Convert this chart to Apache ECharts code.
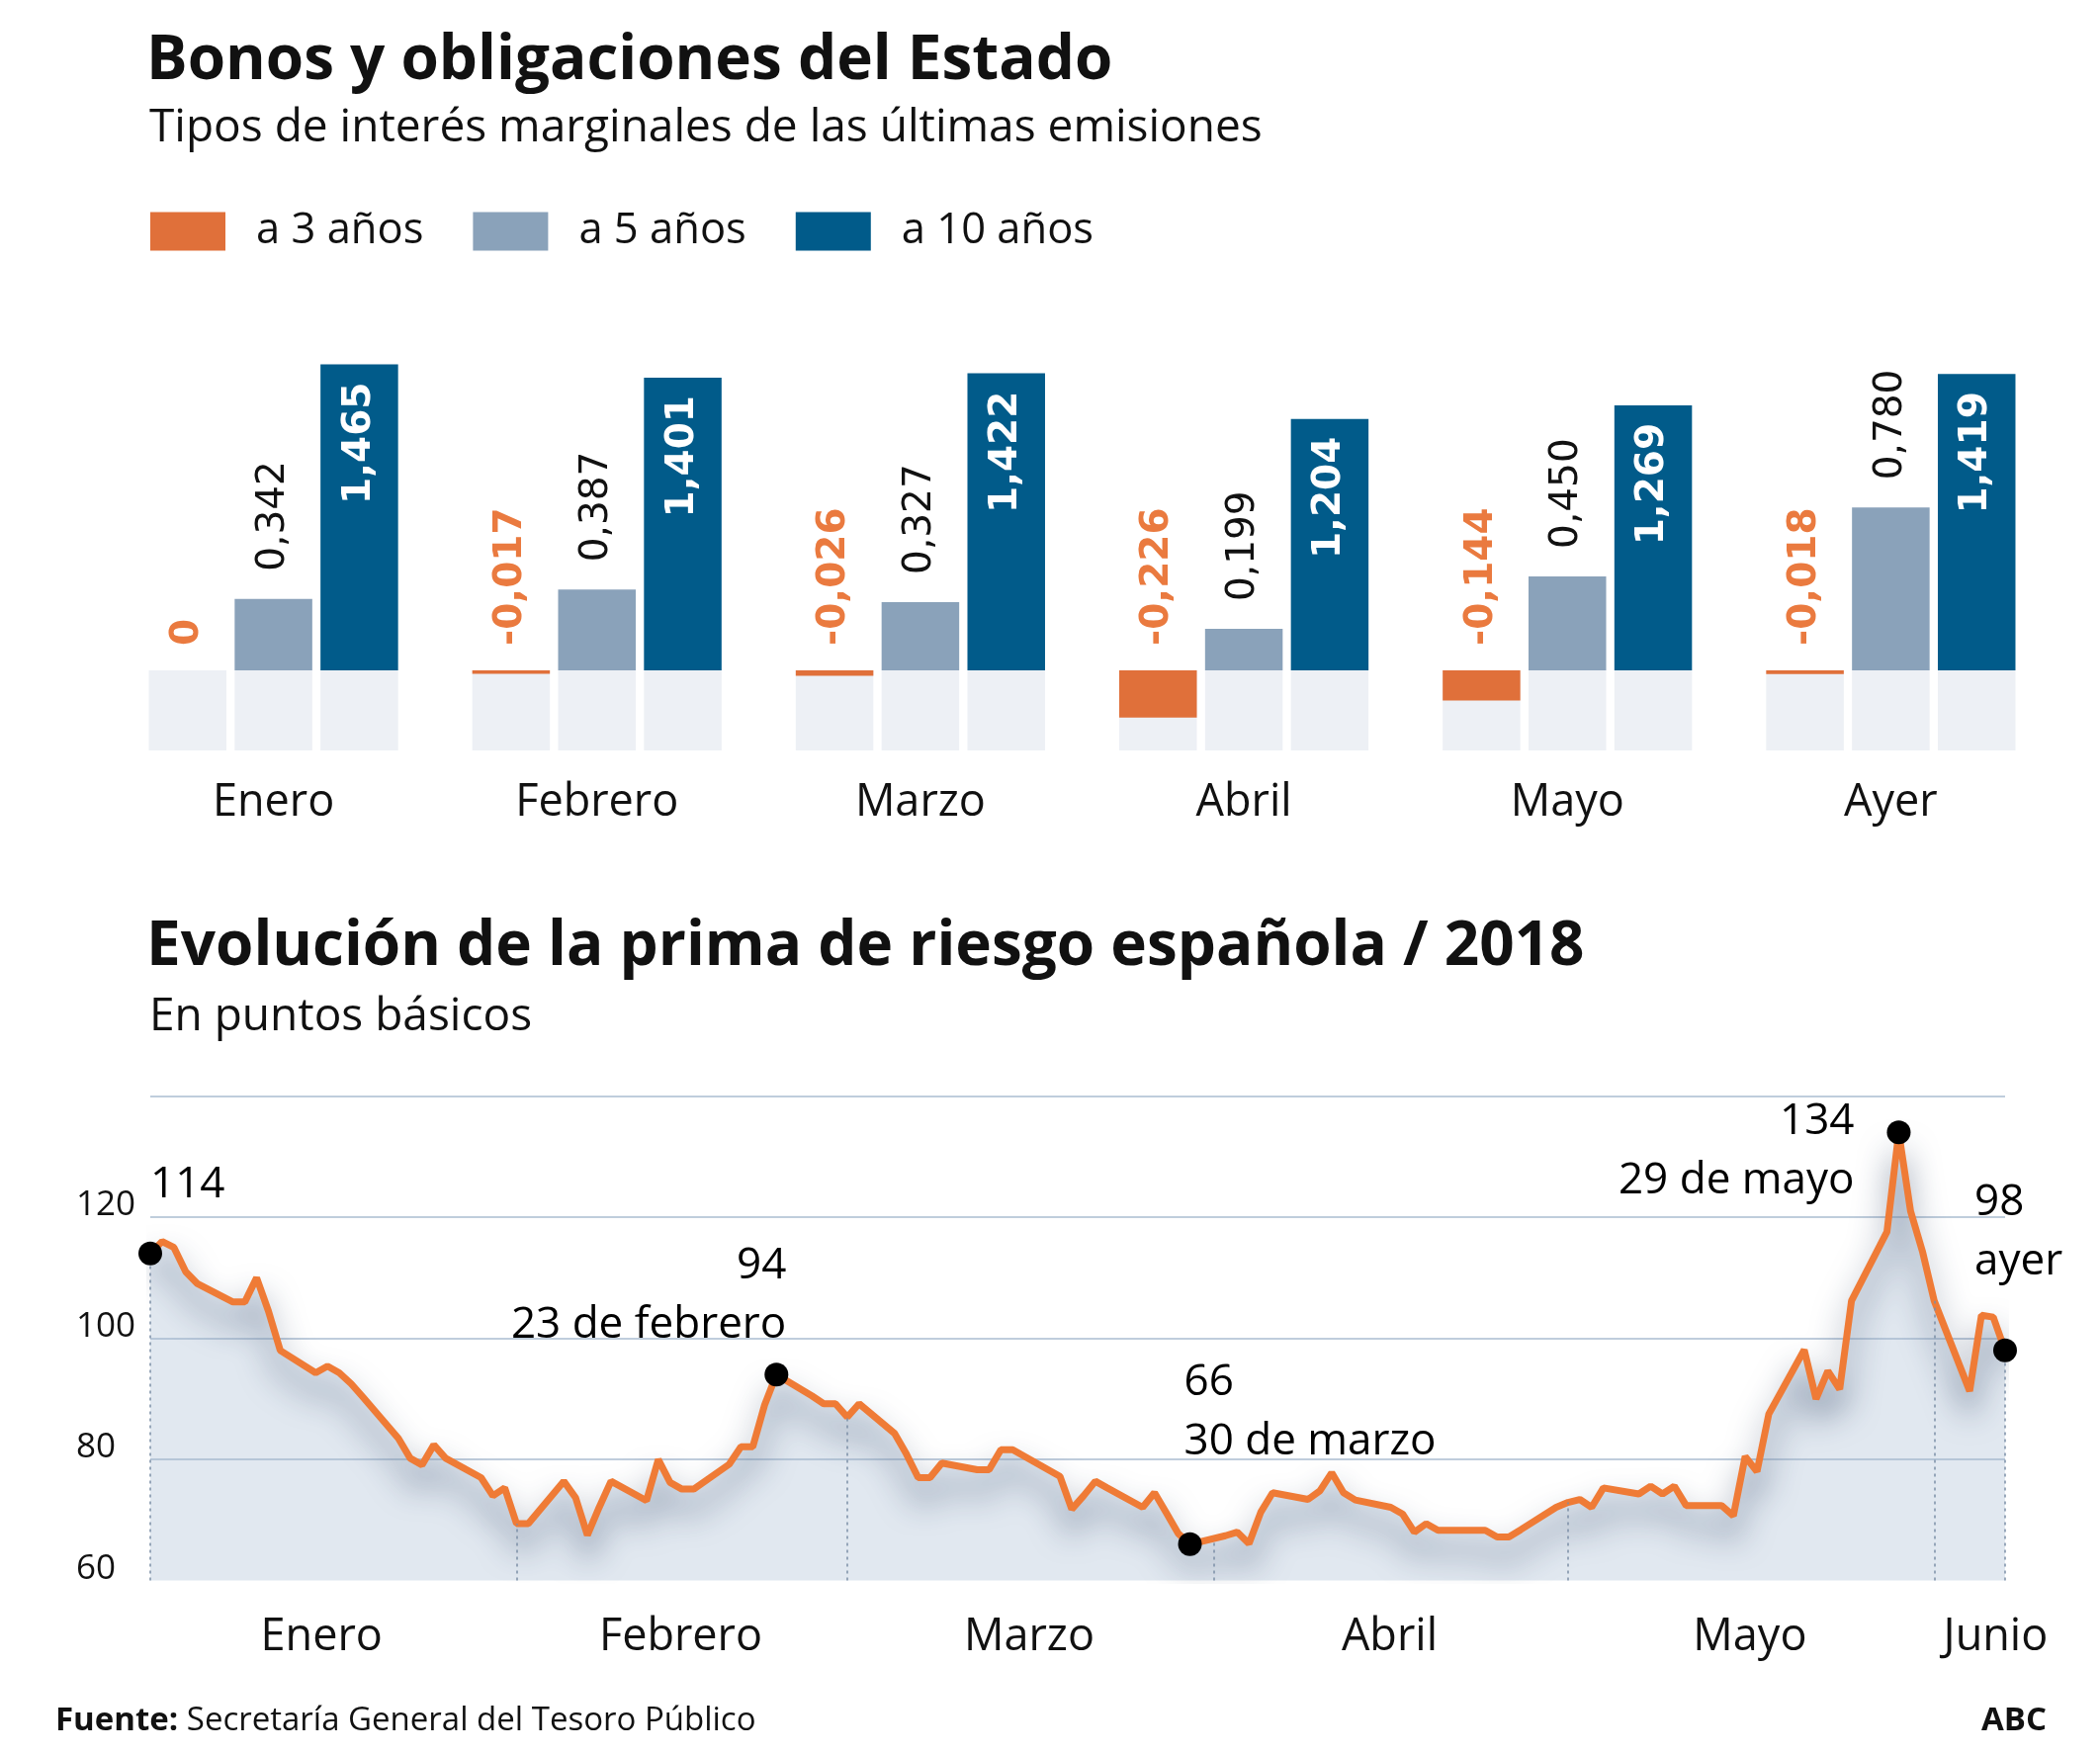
<!DOCTYPE html>
<html><head><meta charset="utf-8">
<script src="https://cdn.jsdelivr.net/npm/echarts@6/dist/echarts.min.js"></script>
<style>html,body{margin:0;padding:0;background:#fff}#c{width:2124px;height:1774px}</style>
</head><body><div id="c"></div>
<script>
// ---------- Datos: bonos y obligaciones ----------
const meses = ['Enero', 'Febrero', 'Marzo', 'Abril', 'Mayo', 'Ayer'];
const a3 = [0, -0.017, -0.026, -0.226, -0.144, -0.018];
const a5 = [0.342, 0.387, 0.327, 0.199, 0.450, 0.780];
const a10 = [1.465, 1.401, 1.422, 1.204, 1.269, 1.419];
const fondoMin = -0.383;

// ---------- Datos: prima de riesgo 2018 ----------
const fechas = [
 '2018-01-01','2018-01-02','2018-01-03','2018-01-04','2018-01-05','2018-01-08','2018-01-09','2018-01-10','2018-01-11','2018-01-12','2018-01-15','2018-01-16','2018-01-17','2018-01-18','2018-01-19','2018-01-22','2018-01-23','2018-01-24','2018-01-25','2018-01-26','2018-01-29','2018-01-30','2018-01-31',
 '2018-02-01','2018-02-02','2018-02-05','2018-02-06','2018-02-07','2018-02-08','2018-02-09','2018-02-12','2018-02-13','2018-02-14','2018-02-15','2018-02-16','2018-02-19','2018-02-20','2018-02-21','2018-02-22','2018-02-23','2018-02-26','2018-02-27','2018-02-28',
 '2018-03-01','2018-03-02','2018-03-05','2018-03-06','2018-03-07','2018-03-08','2018-03-09','2018-03-12','2018-03-13','2018-03-14','2018-03-15','2018-03-16','2018-03-19','2018-03-20','2018-03-21','2018-03-22','2018-03-23','2018-03-26','2018-03-27','2018-03-28','2018-03-29','2018-03-30',
 '2018-04-02','2018-04-03','2018-04-04','2018-04-05','2018-04-06','2018-04-09','2018-04-10','2018-04-11','2018-04-12','2018-04-13','2018-04-16','2018-04-17','2018-04-18','2018-04-19','2018-04-20','2018-04-23','2018-04-24','2018-04-25','2018-04-26','2018-04-27','2018-04-30',
 '2018-05-01','2018-05-02','2018-05-03','2018-05-04','2018-05-07','2018-05-08','2018-05-09','2018-05-10','2018-05-11','2018-05-14','2018-05-15','2018-05-16','2018-05-17','2018-05-18','2018-05-21','2018-05-22','2018-05-23','2018-05-24','2018-05-25','2018-05-28','2018-05-29','2018-05-30','2018-05-31',
 '2018-06-01','2018-06-04','2018-06-05','2018-06-06','2018-06-07'
];
const prima = [
 114, 116, 115, 111, 109, 106, 106, 110, 104.5, 98, 94.3, 95.4, 94.3, 92.5, 90.3, 83.5, 80.2, 79.1, 82.4, 80.2, 77, 74, 75.3,
 69.4, 69.4, 76.4, 73.7, 67.5, 72.1, 76.4, 73.2, 80, 76.2, 75.1, 75.1, 79.2, 82.1, 82.1, 89, 94, 90.5, 89.2, 89.2,
 87, 89.2, 84.3, 80.9, 77, 77, 79.4, 78.3, 78.3, 81.6, 81.6, 80.5, 77.2, 71.8, 74, 76.4, 75.3, 72.1, 74.5, 71.2, 67.8, 66,
 67.4, 68, 66.1, 71.3, 74.5, 73.4, 74.8, 77.8, 74.5, 73.3, 72.1, 71, 68, 69.4, 68.3, 68.3, 68.3, 67.2, 67.2, 68.4, 72.1,
 72.9, 73.4, 72.1, 75.3, 74.3, 75.6, 74.3, 75.6, 72.4, 72.4, 70.7, 80.5, 78, 87.5, 98.1, 90, 94.6, 91.6, 106.2, 117.6, 134, 121, 114.4,
 106.2, 91.3, 103.8, 103.5, 98
];
const inicioMeses = ['2018-01-01','2018-02-01','2018-03-01','2018-04-01','2018-05-01','2018-06-01','2018-06-07'];
const nombresMeses = ['Enero', 'Febrero', 'Marzo', 'Abril', 'Mayo', 'Junio'];
const primaMin = 60, primaMax = 140, primaPaso = 20;
const hitosFechas = ['2018-01-01', '2018-02-23', '2018-03-30', '2018-05-29', '2018-06-07'];
const hitosTextos = ['', '23 de febrero', '30 de marzo', '29 de mayo', 'ayer'];

// ---------- Helpers ----------
const FONT = 'Open Sans';
const LBL = 'DejaVu Sans';
const dia = s => (Date.UTC(+s.slice(0,4), +s.slice(5,7) - 1, +s.slice(8,10)) - Date.UTC(2018,0,1)) / 864e5;
const fmt = v => v === 0 ? '0' : v.toFixed(3).replace('.', ',');
const puntos = fechas.map((f, i) => [dia(f), prima[i]]);
function valorEn(d) {
  for (let i = 0; i < puntos.length - 1; i++) {
    const a = puntos[i], b = puntos[i + 1];
    if (d >= a[0] && d <= b[0]) return a[1] + (b[1] - a[1]) * (d - a[0]) / (b[0] - a[0]);
  }
  return puntos[puntos.length - 1][1];
}
const diasInicio = inicioMeses.map(dia);
const posEtiquetas = nombresMeses.map((n, i) => {
  const mid = (diasInicio[i] + diasInicio[i + 1] - 1) / 2;
  return i === nombresMeses.length - 1 ? Math.max(mid, diasInicio[i + 1] - 0.8) : mid + 0.4 * (i > 0 ? 1 : 0) - (i === 0 ? 0.5 : 0);
});
const estiloHitos = [
  {align: 'left', offset: [0, -39]},
  {align: 'right', offset: [10, -20]},
  {align: 'left', offset: [-6, -73]},
  {align: 'right', offset: [-45, 79]},
  {align: 'left', offset: [-31, -59]}
];

const BW = 78.5, BG = '10.6%';
const fondo = n => ({
  type: 'bar', name: n, xAxisIndex: 1, yAxisIndex: 0, barWidth: BW, barGap: BG,
  data: meses.map(() => fondoMin), itemStyle: {color: '#edf0f5'}, silent: true, z: 1
});
const barLabel = (pos, align, color, weight) => ({
  show: true, position: pos, rotate: 90, align: align, verticalAlign: 'middle',
  formatter: p => fmt(p.value), fontFamily: LBL, fontSize: 39, fontWeight: weight, color: color
});

const chart = echarts.init(document.getElementById('c'), null, {renderer: 'canvas', width: 2124, height: 1774});
const txt = '#111111';
chart.setOption({
  backgroundColor: '#ffffff',
  animation: false,
  title: [
    {text: 'Bonos y obligaciones del Estado', left: 148, top: 24, padding: 0,
     textStyle: {fontFamily: FONT, fontWeight: 'bold', fontSize: 62, lineHeight: 76, color: txt}},
    {text: 'Tipos de interés marginales de las últimas emisiones', left: 151, top: 102, padding: 0,
     textStyle: {fontFamily: FONT, fontWeight: 'normal', fontSize: 46, lineHeight: 56, color: txt}},
    {text: 'Evolución de la prima de riesgo española / 2018', left: 148, top: 920, padding: 0,
     textStyle: {fontFamily: FONT, fontWeight: 'bold', fontSize: 62, lineHeight: 76, color: txt}},
    {text: 'En puntos básicos', left: 151, top: 1001, padding: 0,
     textStyle: {fontFamily: FONT, fontWeight: 'normal', fontSize: 46, lineHeight: 56, color: txt}},
    {text: '{b|Fuente:} Secretaría General del Tesoro Público', left: 56, top: 1722, padding: 0,
     textStyle: {fontFamily: FONT, fontWeight: 'normal', fontSize: 33, lineHeight: 38, color: txt,
       rich: {b: {fontFamily: FONT, fontWeight: 'bold', fontSize: 33, lineHeight: 38, color: txt}}}},
    {text: 'ABC', right: 54, top: 1722, padding: 0,
     textStyle: {fontFamily: FONT, fontWeight: 'bold', fontSize: 33, lineHeight: 38, color: txt}}
  ],
  legend: {
    data: ['a 3 años', 'a 5 años', 'a 10 años'], left: 152, top: 212, padding: 0,
    icon: 'rect', itemWidth: 76, itemHeight: 39, itemGap: 50, selectedMode: false,
    textStyle: {fontFamily: FONT, fontSize: 43.5, lineHeight: 39, color: txt, padding: [0, 0, 0, 26]}
  },
  grid: [
    {left: 113, right: 48, top: 340, bottom: 1011.5},
    {left: 152, right: 96, top: 1108.6, bottom: 175.4}
  ],
  xAxis: [
    {type: 'category', gridIndex: 0, data: meses, axisLine: {show: false}, axisTick: {show: false},
     axisLabel: {margin: 50, verticalAlign: 'middle', fontFamily: FONT, fontSize: 45, color: txt}},
    {type: 'category', gridIndex: 0, data: meses, show: false},
    {type: 'value', gridIndex: 1, min: 0, max: diasInicio[diasInicio.length - 1],
     axisLine: {show: false}, axisTick: {show: false}, splitLine: {show: false},
     axisLabel: {customValues: posEtiquetas, margin: 58, verticalAlign: 'middle', fontFamily: FONT, fontSize: 45, color: txt,
       formatter: v => { const i = posEtiquetas.findIndex(p => Math.abs(p - v) < 0.01); return i >= 0 ? nombresMeses[i] : ''; }}}
  ],
  yAxis: [
    {type: 'value', gridIndex: 0, min: -0.4, max: 1.6, show: false},
    {type: 'value', gridIndex: 1, min: primaMin, max: primaMax, interval: primaPaso,
     axisLine: {show: false}, axisTick: {show: false},
     splitLine: {show: true, showMinLine: false, lineStyle: {color: '#bfcddc', width: 2}},
     axisLabel: {align: 'left', margin: 75, verticalAlign: 'bottom', lineHeight: 24,
       fontFamily: FONT, fontSize: 35, color: txt, formatter: v => v >= primaMax ? '' : String(v)}}
  ],
  series: [
    fondo('f3'), fondo('f5'), fondo('f10'),
    {type: 'bar', name: 'a 3 años', xAxisIndex: 0, yAxisIndex: 0, barWidth: BW, barGap: BG, z: 3, data: a3,
     itemStyle: {color: '#e0703a'}, label: barLabel(['50%', -25], 'left', '#ea7a3f', 'bold')},
    {type: 'bar', name: 'a 5 años', xAxisIndex: 0, yAxisIndex: 0, barWidth: BW, barGap: BG, z: 3, data: a5,
     itemStyle: {color: '#8aa2ba'}, label: barLabel(['50%', -28], 'left', '#111111', 'normal')},
    {type: 'bar', name: 'a 10 años', xAxisIndex: 0, yAxisIndex: 0, barWidth: BW, barGap: BG, z: 3, data: a10,
     itemStyle: {color: '#015b8a'}, label: barLabel(['50%', 18], 'right', '#ffffff', 'bold')},
    {type: 'line', name: 'prima', xAxisIndex: 2, yAxisIndex: 1, data: puntos, showSymbol: false, z: 3,
     lineStyle: {color: '#ef7b36', width: 7, shadowColor: 'rgba(30,50,85,0.65)', shadowBlur: 32, shadowOffsetY: 20},
     areaStyle: {color: 'rgba(165,186,210,0.48)', origin: 'start'},
     markLine: {symbol: 'none', silent: true, animation: false, label: {show: false},
       lineStyle: {type: [3, 4], color: '#7c8fa6', width: 1.5},
       data: diasInicio.map(d => [{coord: [d, primaMin]}, {coord: [d, valorEn(d)]}])}},
    {type: 'scatter', name: 'hitos', xAxisIndex: 2, yAxisIndex: 1, symbolSize: 24, z: 5,
     itemStyle: {color: '#000000', opacity: 1},
     label: {show: true, position: 'inside', verticalAlign: 'bottom', fontFamily: FONT, fontSize: 44, lineHeight: 60, color: '#000000', opacity: 1},
     data: hitosFechas.map((f, i) => {
       const d = dia(f), v = valorEn(d);
       const t = Math.round(v) + (hitosTextos[i] ? '\n' + hitosTextos[i] : '');
       return {value: [d, v], label: {formatter: t, align: estiloHitos[i].align, offset: estiloHitos[i].offset}};
     })}
  ]
});
</script></body></html>
